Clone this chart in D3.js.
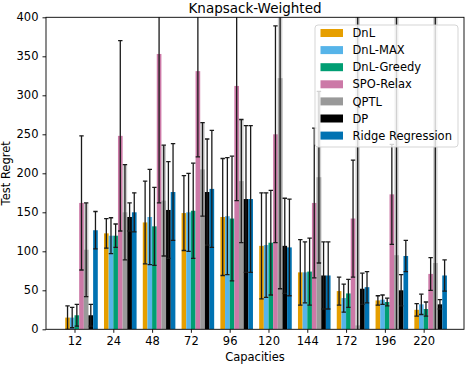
<!DOCTYPE html>
<html lang="en">
<head>
    <meta charset="UTF-8">
    <script src="https://d3js.org/d3.v7.min.js"></script>
    <title>Knapsack-Weighted</title>
    <style>
        html, body {
            margin: 0;
            padding: 0;
            background: white;
        }
        body {
            overflow: hidden;
        }
        text {
            font-family: "DejaVu Sans", sans-serif;
            fill: #000;
        }
        .tick text {
            font-size: 11.5px;
        }
        .legend text {
            font-size: 11.5px;
        }
    </style>
</head>
<body>
    <script>
        // DATA
        const capacities = ["12", "24", "48", "72", "96", "120", "144", "172", "196", "220"];
        const seriesNames = ["DnL", "DnL-MAX", "DnL-Greedy", "SPO-Relax", "QPTL", "DP", "Ridge Regression"];

        const dnl = [15, 123, 137, 149, 144, 107, 73, 49, 37, 25];
        const dnlStd = [15, 19, 53, 48, 75, 68, 42, 18, 6, 8];
        const dnlMax = [15, 120, 144, 150, 145, 108, 73, 40, 38, 32];
        const dnlMaxStd = [13, 23, 61, 50, 75, 67, 39, 18, 6, 13];
        const dnlGreedy = [18, 120, 132, 152, 142, 111, 74, 46, 35, 26];
        const dnlGreedyStd = [14, 15, 50, 61, 80, 67, 43, 18, 5, 9];
        const spoRelax = [162, 248, 353, 331, 312, 250, 162, 142, 173, 71];
        const spoRelaxStd = [86, 122, 191, 110, 147, 139, 96, 75, 64, 21];
        const qptl = [102, 150, 165, 205, 190, 322, 195, 5, 95, 85];
        const qptlStd = [60, 61, 71, 60, 79, 270, 110, 500, 500, 500];
        const dp = [18, 144, 153, 176, 167, 107, 69, 52, 50, 32];
        const dpStd = [14, 18, 62, 68, 94, 61, 43, 20, 20, 6];
        const ridge = [127, 150, 176, 180, 167, 105, 69, 54, 94, 69];
        const ridgeStd = [24, 25, 62, 75, 94, 62, 43, 20, 20, 20];

        const yTicks = [0, 50, 100, 150, 200, 250, 300, 350, 400];

        const means = [dnl, dnlMax, dnlGreedy, spoRelax, qptl, dp, ridge];
        const stds = [dnlStd, dnlMaxStd, dnlGreedyStd, spoRelaxStd, qptlStd, dpStd, ridgeStd];
        const colors = ["#E69F00", "#56B4E9", "#009E73", "#CC79A7", "#999999", "#000000", "#0072B2"];

        const width = 465;
        const height = 365;
        const margin = { top: 17.3, right: 1, bottom: 35.7, left: 46 };
        const barW = 0.12;

        const svg = d3.select('body')
            .append('svg')
            .attr('width', width)
            .attr('height', height);

        const x = d3.scaleLinear()
            .domain([-0.735, 10.04])
            .range([margin.left, width - margin.right]);

        const y = d3.scaleLinear()
            .domain([0, 400])
            .range([height - margin.bottom, margin.top]);

        svg.append('clipPath')
            .attr('id', 'plot-clip')
            .append('rect')
            .attr('x', margin.left)
            .attr('y', margin.top)
            .attr('width', width - margin.right - margin.left)
            .attr('height', y(0) - margin.top);

        const plot = svg.append('g').attr('clip-path', 'url(#plot-clip)');

        // flatten into bar records
        const bars = [];
        seriesNames.forEach((name, s) => {
            capacities.forEach((c, i) => {
                bars.push({
                    s: s,
                    i: i,
                    mean: means[s][i],
                    std: stds[s][i],
                    left: i + (s - 2) * barW
                });
            });
        });

        //BARS
        plot.selectAll('rect.bar')
            .data(bars)
            .join('rect')
            .attr('class', 'bar')
            .attr('x', d => x(d.left))
            .attr('width', d => x(d.left + barW) - x(d.left))
            .attr('y', d => y(d.mean))
            .attr('height', d => y(0) - y(d.mean))
            .attr('fill', d => colors[d.s]);

        //ERROR BARS
        const errs = plot.selectAll('g.err')
            .data(bars)
            .join('g')
            .attr('class', 'err');

        errs.filter(d => d.s === 4)
            .append('line')
            .attr('x1', d => x(d.left + barW / 2))
            .attr('x2', d => x(d.left + barW / 2))
            .attr('y1', d => y(d.mean - d.std))
            .attr('y2', d => y(d.mean + d.std))
            .attr('stroke', '#aaa')
            .attr('stroke-opacity', 0.55)
            .attr('stroke-width', 4.5);

        errs.append('line')
            .attr('x1', d => x(d.left + barW / 2))
            .attr('x2', d => x(d.left + barW / 2))
            .attr('y1', d => y(d.mean - d.std))
            .attr('y2', d => y(d.mean + d.std))
            .attr('stroke', '#1a1a1a')
            .attr('stroke-width', 1.3);

        [-1, 1].forEach(sign => {
            errs.append('line')
                .attr('x1', d => x(d.left + barW / 2) - 2.2)
                .attr('x2', d => x(d.left + barW / 2) + 2.2)
                .attr('y1', d => y(d.mean + sign * d.std))
                .attr('y2', d => y(d.mean + sign * d.std))
                .attr('stroke', '#1a1a1a')
                .attr('stroke-width', 1.3);
        });

        // AXES
        svg.append('g')
            .attr('transform', `translate(0,${y(0)})`)
            .call(d3.axisBottom(x)
                .tickValues(d3.range(capacities.length))
                .tickFormat(i => capacities[i])
                .tickSizeOuter(0)
                .tickSize(3.5)
                .tickPadding(4))
            .call(g => g.select('.domain').remove());

        svg.append('g')
            .attr('transform', `translate(${margin.left},0)`)
            .call(d3.axisLeft(y)
                .tickValues(yTicks)
                .tickSizeOuter(0)
                .tickSize(3.5)
                .tickPadding(4))
            .call(g => g.select('.domain').remove());

        svg.selectAll('.tick line').attr('stroke', '#000').attr('stroke-width', 0.9);

        // FRAME
        svg.append('rect')
            .attr('x', margin.left)
            .attr('y', margin.top)
            .attr('width', width - margin.right - margin.left)
            .attr('height', y(0) - margin.top)
            .attr('fill', 'none')
            .attr('stroke', '#000')
            .attr('stroke-width', 0.9);

        //THE TITLE
        svg.append('text')
            .text('Knapsack-Weighted')
            .attr('x', (margin.left + width - margin.right) / 2)
            .attr('y', 12.5)
            .attr('text-anchor', 'middle')
            .style('font-size', '13.5px');

        svg.append('text')
            .text('Capacities')
            .attr('x', (margin.left + width - margin.right) / 2)
            .attr('y', 361)
            .attr('text-anchor', 'middle')
            .style('font-size', '11.5px');

        svg.append('text')
            .text('Test Regret')
            .attr('transform', `translate(10,${(margin.top + y(0)) / 2}) rotate(-90)`)
            .attr('text-anchor', 'middle')
            .style('font-size', '11.5px');

        // LEGEND
        const legend = svg.append('g')
            .attr('class', 'legend')
            .attr('transform', 'translate(315,25)');

        legend.append('rect')
            .attr('width', 143)
            .attr('height', 122)
            .attr('rx', 3)
            .attr('fill', 'white')
            .attr('fill-opacity', 0.8)
            .attr('stroke', '#d0d0d0')
            .attr('stroke-width', 0.9);

        seriesNames.forEach((name, i) => {
            legend.append('rect')
                .attr('x', 5.5)
                .attr('y', 4 + i * 17.1)
                .attr('width', 22.5)
                .attr('height', 8)
                .attr('fill', colors[i]);

            legend.append('text')
                .attr('x', 37.5)
                .attr('y', 8 + i * 17.1)
                .attr('dy', '0.36em')
                .text(name);
        });
    </script>
</body>
</html>
